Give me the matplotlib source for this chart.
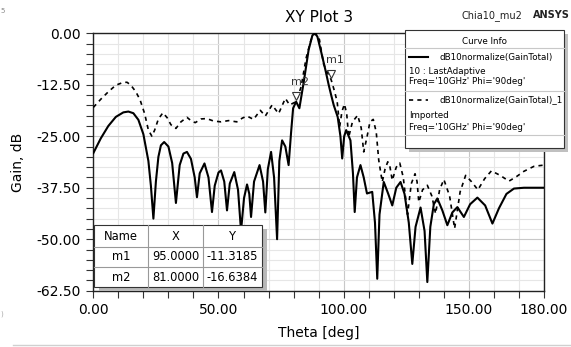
import matplotlib
matplotlib.use("Agg")
import matplotlib.pyplot as plt
import numpy as np
from matplotlib.patches import Rectangle
from matplotlib.lines import Line2D
from matplotlib import transforms

plt.rcParams['font.family'] = ['DejaVu Sans']
plt.rcParams['axes.unicode_minus'] = False

# Solid curve: dB10normalize(GainTotal), LastAdaptive
theta_solid = [0, 3, 6, 9, 12, 14, 16, 18, 20, 22, 23, 24, 25, 26, 27, 28.3, 30, 31.5, 33,
               34.5, 36, 37.4, 39, 40.5, 41.4, 42.5, 44.4, 46, 47.4, 48.5, 50, 51, 52.3, 53.4,
               54.5, 56.3, 57.8, 59, 60.2, 61.4, 62.3, 63, 64.2, 66.4, 67.8, 68.7, 69.7, 71,
               72.2, 73.4, 74.3, 75.4, 76.7, 78, 79, 79.8, 81, 82.3, 84, 86, 87.5, 88.5, 89.5,
               91, 92.7, 94, 95, 96, 97.6, 98.7, 99.4, 100.2, 101, 102.7, 103.7, 104.4, 105.3,
               106.7, 108, 109.3, 111.4, 112.5, 113.4, 114.3, 116, 117.8, 119.4, 121, 122.7,
               124.3, 126, 127.4, 128.7, 130.7, 132.3, 133.4, 134.6, 136, 137.4, 139.4, 141.4,
               143.4, 145.4, 146.8, 148, 150.5, 153.4, 156.5, 159.4, 162, 165, 168, 172, 180]
gain_solid = [-29.1, -25.5, -22.5, -20.3, -19.2, -19.0, -19.4, -21.0, -24.5, -31, -37, -45,
              -36, -30, -27.2, -26.4, -27.5, -31.5, -41.2, -32, -29.2, -28.8, -30.5, -35,
              -39.8, -34, -31.6, -35, -43.4, -37, -33.8, -33.3, -36, -43, -36.5, -33.7, -38,
              -48, -40, -36.7, -39, -44.6, -36, -32, -36, -43.5, -33, -28.8, -35, -50, -31,
              -26, -27.5, -32, -24, -18.2, -16.6, -18.2, -12, -4, -0.5, 0, -0.8, -4.5, -8.9,
              -12.5, -15, -17.4, -20.3, -25, -30.4, -25, -23.5, -26, -34, -43.4, -35, -32,
              -35, -38.9, -38.5, -46, -59.6, -44, -36.1, -39, -41.8, -37.5, -36.1, -39, -46,
              -56, -47, -42.3, -48, -60.4, -47, -41.5, -40.1, -43, -46.6, -43.5, -42.2,
              -43.5, -44.6, -41.5, -39.9, -41.8, -46.2, -42.5, -39, -37.7, -37.5, -37.5]

# Dashed curve: dB10normalize(GainTotal)_1, Imported
theta_dash = [0, 3, 6, 9, 12, 13.5, 15, 17, 18.7, 20.5, 22, 23.4, 24.5, 26, 27.8, 29.5, 31,
              33, 35, 37.4, 39, 40.7, 43, 45.3, 48, 51, 54, 57.3, 59.5, 61.4, 64, 66.7, 68.7,
              71.4, 74, 76.7, 78.4, 81, 83, 85, 87, 88.8, 90.3, 92, 93.5, 95, 96.3, 97.4,
              98.4, 99.3, 100.3, 101.2, 102, 103.5, 105.6, 107, 108, 109.3, 110.5, 111.8, 113,
              114, 115.4, 116.5, 117.6, 118.5, 119.4, 121, 122.4, 123.8, 125.5, 127, 128.5,
              129.3, 130, 131.5, 133.4, 135.2, 136.7, 138.3, 140, 142.3, 144.3, 146.5, 148.7,
              151, 153.6, 156.3, 159, 162.5, 166, 169, 172, 176, 180]
gain_dash = [-18, -16, -14.2, -12.6, -11.9, -11.9, -12.6, -14.2, -16.2, -19.5, -23.5, -25,
             -23.5, -20.8, -19.3, -20.5, -22.2, -23.1, -21.5, -20.4, -21.2, -21.7, -20.8,
             -20.7, -21.3, -21.5, -21.2, -21.5, -20.6, -20.1, -20.9, -18.7, -20.1, -17.4,
             -19.5, -15.8, -17.4, -16.6, -13, -6, -1.5, 0, -1.5, -7.5, -9.5, -11.3, -14,
             -16.6, -22.7, -19, -17.2, -19.5, -25.2, -21.5, -19.9, -23, -28.8, -25.2, -21.5,
             -20.9, -24, -30.8, -36.1, -33, -31.2, -32.5, -35.7, -32.5, -31.5, -35, -44,
             -36.5, -34.1, -36, -41, -38, -36.9, -39.5, -43.8, -38, -35.5, -39.5, -47.4,
             -38.5, -34.5, -36, -38, -35.3, -33.4, -34.5, -35.9, -34.8, -33.5, -32.3, -32]

marker_names = ["m1", "m2"]
marker_x = [95.0, 81.0]
marker_y = [-11.3185, -16.6384]

x_labels = [0, 50, 100, 150, 180]
y_labels = [0, -12.5, -25, -37.5, -50, -62.5]

W, H = 571, 347
fig = plt.figure(figsize=(W / 100, H / 100), dpi=100)


def fx(x):
    return x / W


def fy(y):
    return 1 - y / H


ax = fig.add_axes([fx(93.3), fy(290.7), fx(544) - fx(93.3), fy(33.3) - fy(290.7)])

ax.plot(theta_solid, gain_solid, color='black', lw=1.5, solid_joinstyle='round', zorder=3)
ax.plot(theta_dash, gain_dash, color='black', lw=1.2, ls=(0, (2.5, 2.5)), zorder=3)

ax.set_xlim(0, 180)
ax.set_ylim(-62.5, 0)
ax.set_xticks(x_labels)
ax.set_xticklabels([f"{v:.2f}" for v in x_labels])
ax.set_xticks(np.arange(0, 181, 10), minor=True)
ax.set_yticks(y_labels)
ax.set_yticklabels([f"{v:.2f}" for v in y_labels])
ax.set_yticks(np.arange(-62.5, 0.1, 2.5), minor=True)
ax.tick_params(which='both', direction='out', length=5, width=0.8, color='#333333',
               labelsize=10, pad=4)
ax.grid(which='minor', color='#e6e6e6', lw=0.8, zorder=0)
ax.grid(which='major', color='#c8c8c8', lw=0.8, zorder=0)
ax.set_axisbelow(True)
for s in ax.spines.values():
    s.set_color('#222222')
    s.set_linewidth(1.0)

ax.set_xlabel("Theta [deg]", fontsize=10, labelpad=6)
ax.set_ylabel("Gain, dB", fontsize=10, labelpad=8)
ax.set_title("XY Plot 3", fontsize=11, pad=8)

# markers on the trace
tri = transforms.offset_copy(ax.transData, fig=fig, x=0, y=4.5, units='points')
ax.plot(marker_x, marker_y, ls='none', marker='v', ms=6, mfc='white', mec='#333333',
        mew=0.8, transform=tri, zorder=4)
for name, mx, my in zip(marker_names, marker_x, marker_y):
    ax.annotate(name, (mx, my), xytext=(3, 11), textcoords='offset points',
                fontsize=8, color='#333333', ha='center', va='bottom', zorder=4)

# header texts
fig.text(fx(492), fy(16), "Chia10_mu2", fontsize=7, ha='center', va='center', color='#222222')
fig.text(fx(551), fy(15), "ANSYS", fontsize=7, fontweight='bold', ha='center', va='center',
         color='#222222')
fig.text(fx(0.5), fy(11), "5", fontsize=5, ha='left', va='center', color='#888888')
fig.text(fx(0.5), fy(314), ")", fontsize=5, ha='left', va='center', color='#aaaaaa')
fig.add_artist(Line2D([fx(13), 1], [fy(345), fy(345)], color='#d0d0d0', lw=1.0,
                      transform=fig.transFigure))

# Curve Info box
bx0, by0, bx1, by1 = 405, 30, 564, 148
fig.add_artist(Rectangle((fx(bx0 + 4), fy(by1 + 4)), fx(bx1 - bx0), fy(by0) - fy(by1),
                         transform=fig.transFigure, facecolor='#c0c0c0', edgecolor='none',
                         zorder=5))
fig.add_artist(Rectangle((fx(bx0), fy(by1)), fx(bx1 - bx0), fy(by0) - fy(by1),
                         transform=fig.transFigure, facecolor='white', edgecolor='#333333',
                         lw=0.8, zorder=6))
for yy in [48, 90.7, 135]:
    fig.add_artist(Line2D([fx(bx0), fx(bx1)], [fy(yy), fy(yy)], color='#c8c8c8', lw=0.8,
                          transform=fig.transFigure, zorder=7))
fs = 6.3
fig.text(fx(485), fy(41.5), "Curve Info", fontsize=fs, ha='center', va='center', zorder=8)
fig.add_artist(Line2D([fx(409), fx(428)], [fy(57.3), fy(57.3)], color='black', lw=1.5,
                      transform=fig.transFigure, zorder=8))
fig.text(fx(439), fy(57.3), "dB10normalize(GainTotal)", fontsize=fs, va='center', zorder=8)
fig.text(fx(409), fy(71), "10 : LastAdaptive", fontsize=fs, va='center', zorder=8)
fig.text(fx(409), fy(81.7), "Freq='10GHz' Phi='90deg'", fontsize=fs, va='center', zorder=8)
fig.add_artist(Line2D([fx(409), fx(428)], [fy(100), fy(100)], color='black', lw=1.2,
                      ls=(0, (2.5, 2.5)), transform=fig.transFigure, zorder=8))
fig.text(fx(439), fy(100), "dB10normalize(GainTotal)_1", fontsize=fs, va='center', zorder=8)
fig.text(fx(409), fy(115.7), "Imported", fontsize=fs, va='center', zorder=8)
fig.text(fx(409), fy(127.7), "Freq='10GHz' Phi='90deg'", fontsize=fs, va='center', zorder=8)

# marker table
tx0, ty0, tx1, ty1 = 94, 225, 262, 287
fig.add_artist(Rectangle((fx(tx0 + 5), fy(ty1 + 4)), fx(tx1 - tx0), fy(ty0) - fy(ty1),
                         transform=fig.transFigure, facecolor='#b8b8b8', edgecolor='none',
                         zorder=5))
fig.add_artist(Rectangle((fx(tx0), fy(ty1)), fx(tx1 - tx0), fy(ty0) - fy(ty1),
                         transform=fig.transFigure, facecolor='white', edgecolor='#333333',
                         lw=0.8, zorder=6))
for xx in [148, 203]:
    fig.add_artist(Line2D([fx(xx), fx(xx)], [fy(ty0), fy(ty1)], color='#999999', lw=0.8,
                          transform=fig.transFigure, zorder=7))
for yy in [246.7, 267.3]:
    fig.add_artist(Line2D([fx(tx0), fx(tx1)], [fy(yy), fy(yy)], color='#999999', lw=0.8,
                          transform=fig.transFigure, zorder=7))
col_x = [121, 175.5, 232.5]
tfs = 8.3
for cx, head in zip(col_x, ["Name", "X", "Y"]):
    fig.text(fx(cx), fy(236), head, fontsize=tfs, ha='center', va='center', zorder=8)
for i, (name, mx, my) in enumerate(zip(marker_names, marker_x, marker_y)):
    ry = 257 + i * 20.5
    fig.text(fx(col_x[0]), fy(ry), name, fontsize=tfs, ha='center', va='center', zorder=8)
    fig.text(fx(col_x[1]), fy(ry), f"{mx:.4f}", fontsize=tfs, ha='center', va='center', zorder=8)
    fig.text(fx(col_x[2]), fy(ry), f"{my:.4f}", fontsize=tfs, ha='center', va='center', zorder=8)

fig.savefig("out.png", dpi=100)
